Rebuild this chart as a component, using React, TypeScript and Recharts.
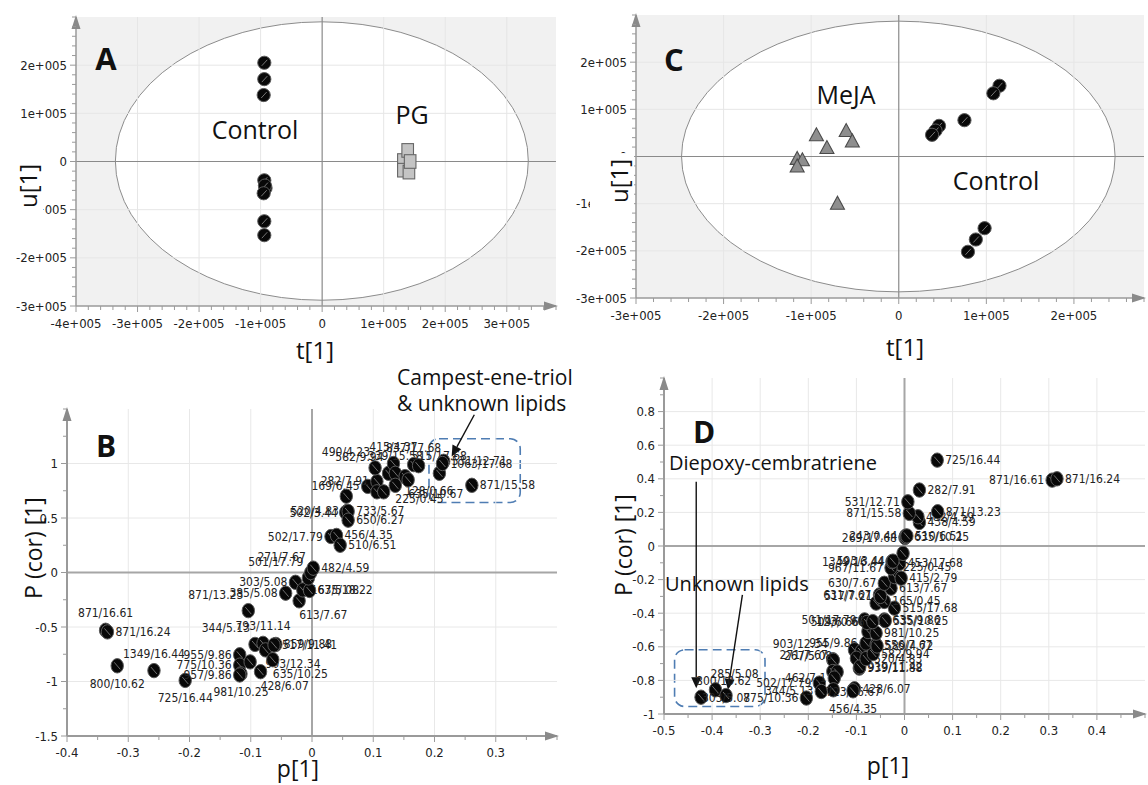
import React from "react";
import {
  ScatterChart,
  Scatter,
  XAxis,
  YAxis,
  ReferenceLine,
  ReferenceArea,
  ReferenceDot,
} from "recharts";

const NARROW = "'Liberation Sans Narrow', 'DejaVu Sans Condensed', sans-serif";
const SANS = "'Open Sans', 'Noto Sans', sans-serif";

// ---------------- Panel A ----------------
const A_X_TICKS = [-400000, -300000, -200000, -100000, 0, 100000, 200000, 300000];
const A_Y_TICKS = [-300000, -200000, -100000, 0, 100000, 200000];
const A_CONTROL = [
  { x: -94000, y: 205000 },
  { x: -94000, y: 171000 },
  { x: -95000, y: 138000 },
  { x: -94000, y: -39000 },
  { x: -92000, y: -55000 },
  { x: -93000, y: -50000 },
  { x: -95000, y: -66000 },
  { x: -94000, y: -124000 },
  { x: -94000, y: -153000 },
];
const A_PG = [
  { x: 132000, y: 2000 },
  { x: 139000, y: 23000 },
  { x: 132000, y: -18000 },
  { x: 141000, y: -22000 },
  { x: 143000, y: 0 },
];
const A_ELLIPSE = { x1: -336000, x2: 335000, y1: -288000, y2: 290000 };

// ---------------- Panel C ----------------
const C_X_TICKS = [-300000, -200000, -100000, 0, 100000, 200000];
const C_Y_TICKS = [-300000, -200000, -100000, 0, 100000, 200000];
const C_CONTROL = [
  { x: 115000, y: 150000 },
  { x: 108000, y: 134000 },
  { x: 75000, y: 77000 },
  { x: 46000, y: 65000 },
  { x: 42000, y: 55000 },
  { x: 38000, y: 46000 },
  { x: 98000, y: -152000 },
  { x: 88000, y: -176000 },
  { x: 79000, y: -202000 },
];
const C_MEJA = [
  { x: -94000, y: 46000 },
  { x: -60000, y: 55000 },
  { x: -53000, y: 33000 },
  { x: -82000, y: 19000 },
  { x: -116000, y: -4000 },
  { x: -110000, y: -7000 },
  { x: -116000, y: -20000 },
  { x: -70000, y: -99000 },
];
const C_ELLIPSE = { x1: -248000, x2: 247000, y1: -287000, y2: 287000 };

// ---------------- Panel B ----------------
const B_X_TICKS = [-0.4, -0.3, -0.2, -0.1, 0, 0.1, 0.2, 0.3];
const B_Y_TICKS = [-1.5, -1, -0.5, 0, 0.5, 1];
const B_POINTS: [string, number, number][] = [
  ["871/16.61", -0.337, -0.53],
  ["871/16.24", -0.334, -0.545],
  ["800/10.62", -0.318, -0.856],
  ["1349/16.44", -0.258, -0.9],
  ["725/16.44", -0.207, -0.99],
  ["871/13.23", -0.104, -0.35],
  ["344/5.13", -0.093, -0.66],
  ["793/11.14", -0.08, -0.65],
  ["955/9.86", -0.118, -0.755],
  ["775/10.36", -0.118, -0.85],
  ["981/10.25", -0.116, -0.93],
  ["957/9.86", -0.118, -0.94],
  ["", -0.101, -0.82],
  ["903/12.34", -0.076, -0.71],
  ["635/10.25", -0.064, -0.8],
  ["428/6.07", -0.084, -0.91],
  ["859/9.88", -0.059, -0.66],
  ["517/11.41", -0.062, -0.665],
  ["385/5.08", -0.043, -0.19],
  ["303/5.08", -0.027, -0.09],
  ["613/7.67", -0.021, -0.26],
  ["167/5.08", -0.015, -0.16],
  ["635/18.22", -0.004, -0.165],
  ["501/17.79", -0.006, -0.05],
  ["271/7.67", -0.002, 0.0],
  ["482/4.59", 0.002, 0.04],
  ["502/17.79", 0.031, 0.33],
  ["456/4.35", 0.04, 0.34],
  ["510/6.51", 0.046, 0.25],
  ["520/4.83", 0.057, 0.56],
  ["502/3.44", 0.055, 0.55],
  ["733/5.67", 0.059, 0.56],
  ["650/6.27", 0.059, 0.48],
  ["", 0.056, 0.7],
  ["169/6.45", 0.091, 0.79],
  ["282/7.91", 0.106, 0.835],
  ["", 0.106, 0.74],
  ["", 0.117, 0.74],
  ["490/4.23", 0.103, 0.96],
  ["582/9.94", 0.125, 0.91],
  ["415/4.37", 0.133, 1.0],
  ["339/15.58", 0.136, 0.91],
  ["837/17.68", 0.166, 0.99],
  ["", 0.174, 0.98],
  ["225/0.45", 0.136, 0.8],
  ["128/0.66", 0.152, 0.88],
  ["635/10.67", 0.157, 0.85],
  ["515/17.68", 0.208, 0.91],
  ["531/12.71", 0.215, 1.02],
  ["1063/17.68", 0.213, 1.0],
  ["871/15.58", 0.261, 0.8],
];
const B_LABEL_SIDE: Record<string, string> = {
  "871/16.61": "a", "871/16.24": "r", "800/10.62": "b", "1349/16.44": "a", "725/16.44": "b",
  "871/13.23": "al", "344/5.13": "al", "793/11.14": "a", "955/9.86": "l", "775/10.36": "l",
  "981/10.25": "b", "957/9.86": "l", "903/12.34": "br", "635/10.25": "br", "428/6.07": "br",
  "859/9.88": "r", "517/11.41": "r", "385/5.08": "l", "303/5.08": "l", "613/7.67": "br",
  "167/5.08": "r", "635/18.22": "r", "501/17.79": "al", "271/7.67": "al", "482/4.59": "r",
  "502/17.79": "l", "456/4.35": "r", "510/6.51": "r", "520/4.83": "l", "502/3.44": "l",
  "733/5.67": "r", "650/6.27": "r", "169/6.45": "l", "282/7.91": "l", "490/4.23": "al",
  "582/9.94": "al", "415/4.37": "a", "339/15.58": "a", "837/17.68": "a", "225/0.45": "br",
  "128/0.66": "br", "635/10.67": "br", "515/17.68": "a", "531/12.71": "r", "1063/17.68": "r",
  "871/15.58": "r",
};
const B_BOX = { x1: 0.191, x2: 0.34, y1: 0.642, y2: 1.227 };
const B_ARROW = [{ x: 0.265, y: 1.447 }, { x: 0.228, y: 1.064 }];

// ---------------- Panel D ----------------
const D_X_TICKS = [-0.5, -0.4, -0.3, -0.2, -0.1, 0, 0.1, 0.2, 0.3, 0.4];
const D_Y_TICKS = [-1, -0.8, -0.6, -0.4, -0.2, 0, 0.2, 0.4, 0.6, 0.8];
const D_POINTS: [string, number, number][] = [
  ["800/10.62", -0.423, -0.9],
  ["285/5.08", -0.393, -0.856],
  ["303/5.08", -0.371, -0.89],
  ["775/10.36", -0.204, -0.905],
  ["502/17.79", -0.177, -0.816],
  ["344/5.13", -0.173, -0.866],
  ["903/12.34", -0.149, -0.677],
  ["955/9.86", -0.148, -0.68],
  ["271/7.67", -0.149, -0.747],
  ["267/5.08", -0.14, -0.75],
  ["462/7.1", -0.146, -0.786],
  ["", -0.148, -0.856],
  ["723/16.67", -0.106, -0.856],
  ["428/6.07", -0.104, -0.85],
  ["456/4.35", -0.107, -0.862],
  ["", -0.104, -0.618],
  ["", -0.09, -0.628],
  ["", -0.1, -0.668],
  ["939/11.88", -0.094, -0.727],
  ["919/11.42", -0.093, -0.72],
  ["520/4.83", -0.08, -0.67],
  ["582/9.94", -0.065, -0.64],
  ["", -0.08, -0.578],
  ["556/7.67", -0.059, -0.588],
  ["589/4.72", -0.057, -0.595],
  ["", -0.076, -0.509],
  ["981/10.25", -0.059, -0.519],
  ["501/17.79", -0.083, -0.44],
  ["509/6.66", -0.078, -0.455],
  ["123/0.66", -0.066, -0.45],
  ["635/9.86", -0.042, -0.44],
  ["535/10.25", -0.04, -0.445],
  ["515/17.68", -0.021, -0.37],
  ["", -0.059, -0.34],
  ["165/0.45", -0.042, -0.33],
  ["631/7.67", -0.052, -0.291],
  ["517/7.21", -0.05, -0.3],
  ["613/7.67", -0.028, -0.251],
  ["630/7.67", -0.042, -0.222],
  ["", -0.021, -0.182],
  ["415/2.79", -0.007, -0.192],
  ["453/17.68", -0.01, -0.103],
  ["967/11.67", -0.028, -0.13],
  ["1349/16.44", -0.026, -0.093],
  ["593/3.44", -0.024, -0.09],
  ["225/0.45", -0.003, -0.044],
  ["269/17.68", 0.001, 0.05],
  ["243/0.44", 0.002, 0.058],
  ["635/10.25", 0.003, 0.055],
  ["510/6.51", 0.005, 0.06],
  ["438/4.59", 0.031, 0.14],
  ["482/4.59", 0.028, 0.174],
  ["871/15.58", 0.01, 0.194],
  ["531/12.71", 0.007, 0.263],
  ["871/13.23", 0.069, 0.204],
  ["282/7.91", 0.031, 0.333],
  ["725/16.44", 0.068, 0.511],
  ["871/16.61", 0.307, 0.392],
  ["871/16.24", 0.317, 0.4],
];
const D_LABEL_SIDE: Record<string, string> = {
  "800/10.62": "ar", "285/5.08": "ar", "303/5.08": "c", "775/10.36": "l", "502/17.79": "l",
  "344/5.13": "l", "903/12.34": "al", "955/9.86": "a", "271/7.67": "al", "267/5.08": "al",
  "462/7.1": "l", "723/16.67": "c", "428/6.07": "r", "456/4.35": "b", "939/11.88": "r",
  "919/11.42": "r", "520/4.83": "r", "582/9.94": "r", "556/7.67": "r", "589/4.72": "r",
  "981/10.25": "r", "501/17.79": "l", "509/6.66": "l", "123/0.66": "l", "635/9.86": "r",
  "535/10.25": "r", "515/17.68": "r", "165/0.45": "r", "631/7.67": "l", "517/7.21": "l",
  "613/7.67": "r", "630/7.67": "l", "415/2.79": "r", "453/17.68": "r", "967/11.67": "l",
  "1349/16.44": "l", "593/3.44": "l", "225/0.45": "br", "269/17.68": "l", "243/0.44": "l",
  "635/10.25": "r", "510/6.51": "r", "438/4.59": "r", "482/4.59": "r", "871/15.58": "l",
  "531/12.71": "l", "871/13.23": "r", "282/7.91": "r", "725/16.44": "r", "871/16.61": "l",
  "871/16.24": "r",
};
const D_BOX = { x1: -0.478, x2: -0.29, y1: -0.955, y2: -0.618 };
const D_ARROW_1 = [{ x: -0.433, y: 0.382 }, { x: -0.433, y: -0.846 }];
const D_ARROW_2 = [{ x: -0.337, y: -0.291 }, { x: -0.367, y: -0.856 }];

// ---------------- helpers ----------------
const SIDES: Record<string, [number, number, "start" | "end" | "middle"]> = {
  r: [8, 0, "start"],
  l: [-8, 0, "end"],
  a: [0, -17, "middle"],
  b: [0, 18, "middle"],
  al: [-5, -16, "end"],
  ar: [-5, -16, "start"],
  br: [0, 14, "start"],
  c: [0, 2, "middle"],
};

function range(a: number, b: number, step: number) {
  const out: number[] = [];
  const n = Math.round((b - a) / step);
  for (let i = 0; i <= n; i++) out.push(+(a + i * step).toFixed(6));
  return out;
}
const isIn = (arr: number[], v: number) => arr.some((m) => Math.abs(m - v) < 1e-9);
const fmtE = (v: number) => (v === 0 ? "0" : `${v / 100000}e+005`);
const fmtD = (v: number) => String(v);

const AXIS_COLOR = "#9a9a9a";

function makeXTick(majors: number[], fmt: (v: number) => string, dy: number) {
  return (props: any) => {
    const { x, y, payload } = props;
    const v = payload.value;
    const major = isIn(majors, v);
    return (
      <g>
        <line x1={x} x2={x} y1={y} y2={y + (major ? 6 : 4)} stroke={AXIS_COLOR} strokeWidth={1} />
        {major && (
          <text x={x} y={y + dy} textAnchor="middle" dominantBaseline="central" fontSize={13} fontFamily={NARROW} fill="#222">
            {fmt(v)}
          </text>
        )}
      </g>
    );
  };
}
function makeYTick(majors: number[], fmt: (v: number) => string, dx: number) {
  return (props: any) => {
    const { x, y, payload } = props;
    const v = payload.value;
    const major = isIn(majors, v);
    return (
      <g>
        <line x1={x} x2={x - (major ? 6 : 4)} y1={y} y2={y} stroke={AXIS_COLOR} strokeWidth={1} />
        {major && (
          <text x={x - dx} y={y} textAnchor="end" dominantBaseline="central" fontSize={13} fontFamily={NARROW} fill="#222">
            {fmt(v)}
          </text>
        )}
      </g>
    );
  };
}

const ArrowUp = (p: any) => (
  <polygon points={`${p.cx},${p.cy - 2} ${p.cx - 4.5},${p.cy + 12} ${p.cx + 4.5},${p.cy + 12}`} fill="#8a8a8a" />
);
const ArrowRight = (p: any) => (
  <polygon points={`${p.cx + 2},${p.cy} ${p.cx - 12},${p.cy - 4.5} ${p.cx - 12},${p.cy + 4.5}`} fill="#8a8a8a" />
);

const EllipseShape = (p: any) => (
  <ellipse cx={p.x + p.width / 2} cy={p.y + p.height / 2} rx={p.width / 2} ry={p.height / 2} fill="#ffffff" stroke="#8c8c8c" strokeWidth={1} />
);
const DashedBox = (p: any) => (
  <rect x={p.x} y={p.y} width={p.width} height={p.height} rx={10} ry={10} fill="none" stroke="#4f7db3" strokeWidth={1.6} strokeDasharray="9 5" />
);
const ArrowLine = (p: any) => {
  const { x1, y1, x2, y2 } = p;
  const ang = Math.atan2(y2 - y1, x2 - x1);
  const L = 11, W = 5;
  const bx = x2 - L * Math.cos(ang), by = y2 - L * Math.sin(ang);
  const px = -Math.sin(ang) * W, py = Math.cos(ang) * W;
  return (
    <g>
      <line x1={x1} y1={y1} x2={bx} y2={by} stroke="#111" strokeWidth={1.4} />
      <polygon points={`${x2},${y2} ${bx + px},${by + py} ${bx - px},${by - py}`} fill="#111" />
    </g>
  );
};

const BigDot = (p: any) => (
  <g>
    <circle cx={p.cx} cy={p.cy} r={6.6} fill="#080808" stroke="#5a5a5a" strokeWidth={1} />
    <line x1={p.cx - 2.5} y1={p.cy + 3} x2={p.cx + 3} y2={p.cy - 3} stroke="#cfcfcf" strokeWidth={0.7} opacity={0.8} />
  </g>
);
const PGSquare = (p: any) => (
  <rect x={p.cx - 5.8} y={p.cy - 6.8} width={11.6} height={13.6} fill="#c4c4c4" stroke="#666" strokeWidth={1.1} />
);
const MeJATri = (p: any) => (
  <polygon points={`${p.cx},${p.cy - 7} ${p.cx - 7},${p.cy + 6} ${p.cx + 7},${p.cy + 6}`} fill="#8e8e8e" stroke="#4a4a4a" strokeWidth={1.1} />
);
const makeLabeledDot = (sides: Record<string, string>) => (p: any) => {
  const label: string = p.payload.label;
  const s = SIDES[sides[label] || "r"];
  return (
    <g>
      <ellipse cx={p.cx} cy={p.cy} rx={6.2} ry={7.2} fill="#080808" stroke="#5a5a5a" strokeWidth={1} />
      <line x1={p.cx - 3} y1={p.cy - 3.5} x2={p.cx + 3} y2={p.cy + 3.5} stroke="#d0d0d0" strokeWidth={0.7} opacity={0.75} />
      {label && (
        <text x={p.cx + s[0]} y={p.cy + s[1]} textAnchor={s[2]} dominantBaseline="central" fontSize={12} fontFamily={NARROW} fill="#222">
          {label}
        </text>
      )}
    </g>
  );
};

const toObj = (rows: [string, number, number][]) => rows.map(([label, x, y]) => ({ label, x, y }));

function Txt(props: { x: number; y: number; size: number; bold?: boolean; rotate?: boolean; bg?: boolean; left?: boolean; padTop?: number; children: React.ReactNode }) {
  const { x, y, size, bold, rotate, bg, left, padTop } = props;
  const transform = left ? "translate(0,-50%)" : `translate(-50%,-50%)${rotate ? " rotate(-90deg)" : ""}`;
  return (
    <div
      style={{
        position: "absolute",
        left: x,
        top: y,
        transform,
        fontFamily: SANS,
        fontSize: size,
        fontWeight: bold ? 700 : 400,
        color: "#111",
        whiteSpace: "nowrap",
        lineHeight: bg ? "30px" : 1.15,
        background: bg ? "#fff" : "transparent",
        padding: bg ? `${padTop || 0}px 6px 0 6px` : 0,
        pointerEvents: "none",
      }}
    >
      {props.children}
    </div>
  );
}

function ScorePlot(props: {
  left: number; top: number; width: number; height: number; margin: any;
  xDomain: [number, number]; yDomain: [number, number]; xTicks: number[]; yTicks: number[];
  ellipse: { x1: number; x2: number; y1: number; y2: number }; children: React.ReactNode;
}) {
  const { xDomain, yDomain, xTicks, yTicks, ellipse } = props;
  const xAll = range(xDomain[0], xDomain[1], 20000);
  const yAll = range(yDomain[0], yDomain[1], 20000);
  return (
    <div style={{ position: "absolute", left: props.left, top: props.top }}>
      <ScatterChart width={props.width} height={props.height} margin={props.margin}>
        <XAxis type="number" dataKey="x" domain={xDomain} allowDataOverflow ticks={xAll} interval={0}
          tick={makeXTick(xTicks, fmtE, 17)} tickLine={false} tickSize={0} tickMargin={0}
          axisLine={{ stroke: AXIS_COLOR, strokeWidth: 1.5 }} height={30} />
        <YAxis type="number" dataKey="y" domain={yDomain} allowDataOverflow ticks={yAll} interval={0}
          tick={makeYTick(yTicks, fmtE, 9)} tickLine={false} tickSize={0} tickMargin={0}
          axisLine={{ stroke: AXIS_COLOR, strokeWidth: 1.5 }} width={60} />
        <ReferenceArea x1={xDomain[0]} x2={xDomain[1]} y1={yDomain[0]} y2={yDomain[1]} fill="#f1f1f1" fillOpacity={1} stroke="none" ifOverflow="visible" />
        <ReferenceArea x1={ellipse.x1} x2={ellipse.x2} y1={ellipse.y1} y2={ellipse.y2} shape={EllipseShape} ifOverflow="visible" />
        {xTicks.filter((v) => v !== 0 && v !== xDomain[0]).map((v) => (
          <ReferenceLine key={"gx" + v} x={v} stroke="#e6e6e6" strokeWidth={1} />
        ))}
        {yTicks.filter((v) => v !== 0 && v !== yDomain[0]).map((v) => (
          <ReferenceLine key={"gy" + v} y={v} stroke="#e6e6e6" strokeWidth={1} />
        ))}
        <ReferenceLine x={0} stroke="#8a8a8a" strokeWidth={1.2} />
        <ReferenceLine y={0} stroke="#8a8a8a" strokeWidth={1.2} />
        <ReferenceDot x={xDomain[0]} y={yDomain[1]} r={0} shape={ArrowUp} ifOverflow="visible" />
        <ReferenceDot x={xDomain[1]} y={yDomain[0]} r={0} shape={ArrowRight} ifOverflow="visible" />
        {props.children}
      </ScatterChart>
    </div>
  );
}

function LoadingPlot(props: {
  left: number; top: number; width: number; height: number; margin: any;
  xDomain: [number, number]; yDomain: [number, number]; xTicks: number[]; yTicks: number[];
  xMinor: number; yMinor: number; xGrid: number[]; yGrid: number[];
  data: { label: string; x: number; y: number }[]; sides: Record<string, string>;
  box: { x1: number; x2: number; y1: number; y2: number }; arrows: { x: number; y: number }[][];
}) {
  const { xDomain, yDomain, xTicks, yTicks } = props;
  const xAll = range(xDomain[0], xDomain[1] - 0.01, props.xMinor);
  const yAll = range(yDomain[0], yDomain[1] - 0.01, props.yMinor);
  return (
    <div style={{ position: "absolute", left: props.left, top: props.top }}>
      <ScatterChart width={props.width} height={props.height} margin={props.margin}>
        <XAxis type="number" dataKey="x" domain={xDomain} allowDataOverflow ticks={xAll} interval={0}
          tick={makeXTick(xTicks, fmtD, 16)} tickLine={false} tickSize={0} tickMargin={0}
          axisLine={{ stroke: AXIS_COLOR, strokeWidth: 2 }} height={30} />
        <YAxis type="number" dataKey="y" domain={yDomain} allowDataOverflow ticks={yAll} interval={0}
          tick={makeYTick(yTicks, fmtD, 9)} tickLine={false} tickSize={0} tickMargin={0}
          axisLine={{ stroke: AXIS_COLOR, strokeWidth: 2 }} width={40} />
        {props.xGrid.map((v) => (
          <ReferenceLine key={"gx" + v} x={v} stroke="#e8e8e8" strokeWidth={1} />
        ))}
        {props.yGrid.map((v) => (
          <ReferenceLine key={"gy" + v} y={v} stroke="#e8e8e8" strokeWidth={1} />
        ))}
        <ReferenceLine x={0} stroke="#a6a6a6" strokeWidth={2} />
        <ReferenceLine y={0} stroke="#a6a6a6" strokeWidth={2} />
        <ReferenceDot x={xDomain[0]} y={yDomain[1]} r={0} shape={ArrowUp} ifOverflow="visible" />
        <ReferenceDot x={xDomain[1]} y={yDomain[0]} r={0} shape={ArrowRight} ifOverflow="visible" />
        <ReferenceArea x1={props.box.x1} x2={props.box.x2} y1={props.box.y1} y2={props.box.y2} shape={DashedBox} ifOverflow="visible" />
        <Scatter data={props.data} dataKey="y" shape={makeLabeledDot(props.sides)} isAnimationActive={false} />
        {props.arrows.map((seg, i) => (
          <ReferenceLine key={"ar" + i} segment={seg} shape={ArrowLine} ifOverflow="visible" />
        ))}
      </ScatterChart>
    </div>
  );
}

export default function App() {
  return (
    <div style={{ position: "absolute", left: 0, top: 0, width: 1148, height: 785, overflow: "hidden", background: "#fff" }}>
      {/* Panel A */}
      <ScorePlot left={0} top={0} width={560} height={360}
        margin={{ top: 17, right: 4, bottom: 24, left: 16 }}
        xDomain={[-400000, 380000]} yDomain={[-300000, 300000]} xTicks={A_X_TICKS} yTicks={A_Y_TICKS} ellipse={A_ELLIPSE}>
        <Scatter data={A_CONTROL} dataKey="y" shape={BigDot} isAnimationActive={false} />
        <Scatter data={A_PG} dataKey="y" shape={PGSquare} isAnimationActive={false} />
      </ScorePlot>
      {/* Panel C */}
      <ScorePlot left={560} top={0} width={588} height={360}
        margin={{ top: 15, right: 4, bottom: 32, left: 16 }}
        xDomain={[-300000, 280000]} yDomain={[-300000, 300000]} xTicks={C_X_TICKS} yTicks={C_Y_TICKS} ellipse={C_ELLIPSE}>
        <Scatter data={C_MEJA} dataKey="y" shape={MeJATri} isAnimationActive={false} />
        <Scatter data={C_CONTROL} dataKey="y" shape={BigDot} isAnimationActive={false} />
      </ScorePlot>
      {/* Panel B */}
      <LoadingPlot left={0} top={360} width={560} height={425}
        margin={{ top: 49, right: 3, bottom: 19, left: 27 }}
        xDomain={[-0.4, 0.4]} yDomain={[-1.5, 1.5]} xTicks={B_X_TICKS} yTicks={B_Y_TICKS}
        xMinor={0.05} yMinor={0.25}
        xGrid={[-0.3, -0.2, -0.1, 0.1, 0.2, 0.3]} yGrid={[-1, -0.5, 0.5, 1]}
        data={toObj(B_POINTS)} sides={B_LABEL_SIDE} box={B_BOX} arrows={[B_ARROW]} />
      {/* Panel D */}
      <LoadingPlot left={560} top={360} width={588} height={425}
        margin={{ top: 18, right: 3, bottom: 41, left: 64 }}
        xDomain={[-0.5, 0.5]} yDomain={[-1, 1]} xTicks={D_X_TICKS} yTicks={D_Y_TICKS}
        xMinor={0.05} yMinor={0.1}
        xGrid={[-0.4, -0.3, -0.2, -0.1, 0.1, 0.2, 0.3, 0.4]} yGrid={[-0.8, -0.6, -0.4, -0.2, 0.2, 0.4, 0.6, 0.8]}
        data={toObj(D_POINTS)} sides={D_LABEL_SIDE} box={D_BOX} arrows={[D_ARROW_1, D_ARROW_2]} />

      {/* Texts A */}
      <Txt x={106} y={59} size={31} bold>A</Txt>
      <Txt x={255} y={129} size={25}>Control</Txt>
      <Txt x={412} y={114} size={25}>PG</Txt>
      <Txt x={26} y={186} size={24} rotate bg padTop={4}>u[1]</Txt>
      <Txt x={315} y={350} size={24}>t[1]</Txt>
      {/* Texts C */}
      <Txt x={674} y={60} size={31} bold>C</Txt>
      <Txt x={846} y={94} size={25}>MeJA</Txt>
      <Txt x={996} y={180} size={25}>Control</Txt>
      <Txt x={612} y={181} size={24} rotate bg padTop={14}>u[1]</Txt>
      <Txt x={905} y={347} size={24}>t[1]</Txt>
      {/* Texts B */}
      <Txt x={106} y={446} size={30} bold>B</Txt>
      <Txt x={33} y={548} size={23} rotate>P (cor) [1]</Txt>
      <Txt x={298} y={768} size={23}>p[1]</Txt>
      <Txt x={397} y={377} size={21} left>Campest-ene-triol</Txt>
      <Txt x={397} y={403} size={21} left>&amp; unknown lipids</Txt>
      {/* Texts D */}
      <Txt x={704} y={432} size={30} bold>D</Txt>
      <Txt x={623} y={545} size={23} rotate>P (cor) [1]</Txt>
      <Txt x={888} y={765} size={23}>p[1]</Txt>
      <Txt x={669} y={462} size={20} left>Diepoxy-cembratriene</Txt>
      <Txt x={665} y={583} size={20} left>Unknown lipids</Txt>
    </div>
  );
}
